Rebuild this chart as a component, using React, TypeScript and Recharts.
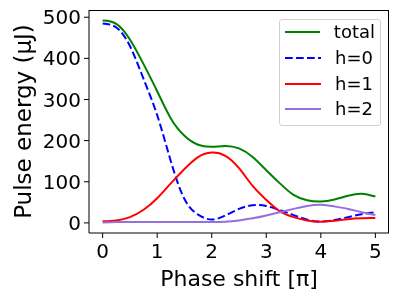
import React from "react";
import {
  LineChart,
  Line,
  XAxis,
  YAxis,
  Legend,
} from "recharts";

// phase shift in units of pi
const phase = [0, 0.25, 0.5, 0.75, 1, 1.25, 1.5, 1.75, 2, 2.25, 2.5, 2.75, 3, 3.25, 3.5, 3.75, 4, 4.25, 4.5, 4.75, 5];
const total = [492, 484, 446, 386, 320, 254, 212, 190, 185, 187, 181, 160, 128, 96, 68, 55, 52, 57, 66, 71, 64];
const h0 = [485, 475, 430, 350, 262, 150, 58, 20, 8, 18, 34, 43, 41, 31, 19, 8, 3, 7, 14, 21, 26];
const h1 = [4, 6, 14, 32, 60, 96, 131, 160, 171, 163, 133, 90, 56, 28, 14, 6, 3, 5, 9, 11, 12];
const h2 = [1, 2, 2, 2, 2, 2, 2, 2, 2, 3, 6, 11, 18, 26, 34, 41, 44, 40, 34, 26, 19];

const xTicks = [0, 1, 2, 3, 4, 5];
const yTicks = [0, 100, 200, 300, 400, 500];

const data = phase.map((p, i) => ({
  phase: p,
  total: total[i],
  h0: h0[i],
  h1: h1[i],
  h2: h2[i],
}));

const series = [
  { key: "total", name: "total", color: "#008000", dash: undefined },
  { key: "h0", name: "h=0", color: "#0000ff", dash: "7.7 3.3" },
  { key: "h1", name: "h=1", color: "#ff0000", dash: undefined },
  { key: "h2", name: "h=2", color: "#9370db", dash: undefined },
];

const FONT = "DejaVu Sans";

function LegendBox() {
  return (
    <div
      style={{
        border: "1px solid #d0d0d0",
        borderRadius: 3,
        background: "rgba(255,255,255,0.8)",
        padding: "0 5px 0 5px",
        fontFamily: FONT,
        fontSize: 18,
        boxSizing: "border-box",
        width: 102,
        height: 107,
      }}
    >
      {series.map((s) => (
        <div key={s.key} style={{ display: "flex", alignItems: "center", height: 25.7 }}>
          <svg width={36} height={4} style={{ marginRight: 14 }}>
            <line x1={0} y1={2} x2={36} y2={2} stroke={s.color} strokeWidth={2} strokeDasharray={s.dash} />
          </svg>
          <span style={{ color: "#000", lineHeight: "20px" }}>{s.name}</span>
        </div>
      ))}
    </div>
  );
}

export default function App() {
  return (
    <div style={{ position: "fixed", left: 0, top: 0, width: 399, height: 299 }}>
      <LineChart
        width={399}
        height={299}
        data={data}
        margin={{ top: 10, right: 10, left: 0, bottom: 0 }}
      >
        <XAxis
          dataKey="phase"
          type="number"
          domain={[-0.25, 5.25]}
          ticks={xTicks}
          allowDataOverflow
          height={66}
          tickSize={5}
          tickMargin={5.5}
          stroke="#000"
          tick={{ fill: "#000", fontSize: 20, fontFamily: FONT }}
          label={({ viewBox }: any) => (
            <text
              x={viewBox.x + viewBox.width / 2}
              y={285.5}
              textAnchor="middle"
              fontSize={22}
              fontFamily={FONT}
              fill="#000"
            >
              Phase shift [π]
            </text>
          )}
        />
        <YAxis
          type="number"
          domain={[-24.6, 517.6]}
          ticks={yTicks}
          allowDataOverflow
          width={89}
          tickSize={5}
          tickMargin={3}
          stroke="#000"
          tick={{ fill: "#000", fontSize: 20, fontFamily: FONT }}
          label={() => (
            <text
              x={23}
              y={121.5}
              dy="0.35em"
              textAnchor="middle"
              transform="rotate(-90, 23, 121.5)"
              fontSize={23}
              fontFamily={FONT}
              fill="#000"
            >
              Pulse energy (μJ)
            </text>
          )}
        />
        {series.map((s) => (
          <Line
            key={s.key}
            dataKey={s.key}
            name={s.name}
            type="natural"
            stroke={s.color}
            strokeWidth={2}
            strokeDasharray={s.dash}
            dot={false}
            activeDot={false}
            isAnimationActive={false}
          />
        ))}
        <Legend
          layout="vertical"
          align="center"
          verticalAlign="middle"
          wrapperStyle={{ left: 279, top: 18.5, width: 102, height: 107 }}
          content={() => <LegendBox />}
        />
      </LineChart>
      {/* top and right spines */}
      <div
        style={{
          position: "absolute",
          left: 89,
          top: 10,
          width: 300,
          height: 223,
          borderTop: "1px solid #000",
          borderRight: "1px solid #000",
          boxSizing: "border-box",
          pointerEvents: "none",
        }}
      />
    </div>
  );
}
